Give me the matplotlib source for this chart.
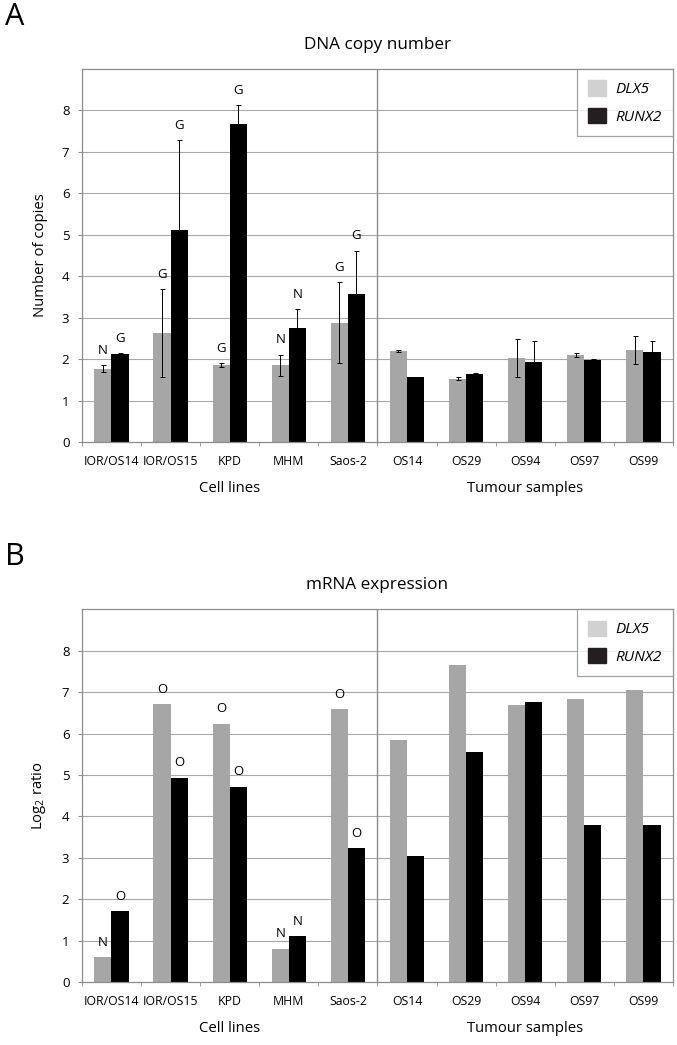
import numpy as np
import matplotlib
matplotlib.use('Agg')
import matplotlib.pyplot as plt
import matplotlib.transforms as mtransforms

plt.rcParams['font.family'] = ['Open Sans', 'DejaVu Sans']
plt.rcParams['mathtext.default'] = 'regular'

samples = ['IOR/OS14', 'IOR/OS15', 'KPD', 'MHM', 'Saos-2',
           'OS14', 'OS29', 'OS94', 'OS97', 'OS99']
groups = ['Cell lines', 'Tumour samples']

# A - DNA copy number
dna_dlx5 = [1.77, 2.63, 1.86, 1.85, 2.88, 2.20, 1.53, 2.03, 2.10, 2.23]
dna_dlx5_err = [0.09, 1.05, 0.05, 0.26, 0.98, 0.03, 0.04, 0.45, 0.04, 0.34]
dna_runx2 = [2.12, 5.12, 7.68, 2.75, 3.58, 1.57, 1.65, 1.94, 1.99, 2.17]
dna_runx2_err = [0.03, 2.16, 0.45, 0.45, 1.04, 0.01, 0.01, 0.50, 0.02, 0.27]
dna_dlx5_lab = ['N', 'G', 'G', 'N', 'G']
dna_runx2_lab = ['G', 'G', 'G', 'N', 'G']

# B - mRNA expression
mrna_dlx5 = [0.61, 6.71, 6.24, 0.81, 6.59, 5.85, 7.65, 6.69, 6.83, 7.04]
mrna_runx2 = [1.71, 4.94, 4.72, 1.11, 3.23, 3.05, 5.56, 6.77, 3.79, 3.80]
mrna_dlx5_lab = ['N', 'O', 'O', 'N', 'O']
mrna_runx2_lab = ['O', 'O', 'O', 'N', 'O']

GREY = '#a6a6a6'
BLACK = '#000000'
LINE = '#8c8c8c'
W = 0.29


def draw_panel(ax, d1, d2, e1, e2, lab1, lab2, title, ylabel, letter, fig):
    x = np.arange(len(samples))
    ax.set_xlim(-0.5, len(samples) - 0.5)
    ax.set_ylim(0, 9)
    ax.set_yticks(range(0, 9))
    for v in range(1, 9):
        ax.axhline(v, color='#a8a8a8', lw=0.8, zorder=0)
    ax.axvline(4.5, color=LINE, lw=1.0, zorder=0)

    b1 = ax.bar(x - W / 2, d1, W, color=GREY, zorder=2)
    b2 = ax.bar(x + W / 2, d2, W, color=BLACK, zorder=2)
    if e1 is not None:
        ax.errorbar(x - W / 2, d1, yerr=e1, fmt='none', ecolor='black',
                    elinewidth=0.7, capsize=1.8, capthick=0.7, zorder=3)
        ax.errorbar(x + W / 2, d2, yerr=e2, fmt='none', ecolor='black',
                    elinewidth=0.7, capsize=1.8, capthick=0.7, zorder=3)
    else:
        e1 = [0] * len(d1)
        e2 = [0] * len(d2)

    for i, t in enumerate(lab1):
        ax.text(x[i] - W / 2, d1[i] + e1[i] + 0.2, t, ha='center',
                va='bottom', fontsize=9.5)
    for i, t in enumerate(lab2):
        ax.text(x[i] + W / 2, d2[i] + e2[i] + 0.2, t, ha='center',
                va='bottom', fontsize=9.5)

    for s in ax.spines.values():
        s.set_color(LINE)
        s.set_linewidth(0.9)
    ax.set_xticks(x)
    ax.set_xticklabels(samples, fontsize=8.8)
    ax.set_xticks(np.arange(-0.5, len(samples)), minor=True)
    ax.tick_params(axis='x', which='major', length=0, pad=9)
    ax.tick_params(axis='x', which='minor', length=3, color=LINE)
    ax.tick_params(axis='y', length=3, color=LINE, labelsize=9.5, pad=6)

    trans = mtransforms.blended_transform_factory(ax.transData, ax.transAxes)
    ax.text(2, -0.125, groups[0], transform=trans, ha='center', va='center',
            fontsize=10.7)
    ax.text(7, -0.125, groups[1], transform=trans, ha='center', va='center',
            fontsize=10.7)
    ax.text(0.5, 1.065, title, transform=ax.transAxes, ha='center',
            va='center', fontsize=12.3)
    ax.set_ylabel(ylabel, fontsize=10.7, labelpad=10)

    leg = ax.legend([b1, b2], ['DLX5', 'RUNX2'], loc='upper right',
                    frameon=True, fancybox=False, borderaxespad=0,
                    handlelength=1.15, handleheight=1.15,
                    prop={'style': 'italic', 'size': 11},
                    borderpad=0.75, labelspacing=0.7, handletextpad=0.6)
    leg.get_frame().set_edgecolor(LINE)
    leg.get_frame().set_linewidth(0.9)
    leg.legend_handles[0].set_color('#d1d1d1')
    leg.legend_handles[1].set_color('#231f20')

    pos = ax.get_position()
    fig.text(0.022, pos.y1 + 0.05, letter, fontsize=22, ha='center',
             va='center')


fig = plt.figure(figsize=(6.77, 10.45), dpi=100)
ax1 = fig.add_axes([0.121, 0.577, 0.873, 0.357])
ax2 = fig.add_axes([0.121, 0.060, 0.873, 0.357])

draw_panel(ax1, dna_dlx5, dna_runx2, dna_dlx5_err, dna_runx2_err,
           dna_dlx5_lab, dna_runx2_lab, 'DNA copy number', 'Number of copies',
           'A', fig)
draw_panel(ax2, mrna_dlx5, mrna_runx2, None, None,
           mrna_dlx5_lab, mrna_runx2_lab, 'mRNA expression', 'Log$_2$ ratio',
           'B', fig)

fig.savefig('out.png', dpi=100)
